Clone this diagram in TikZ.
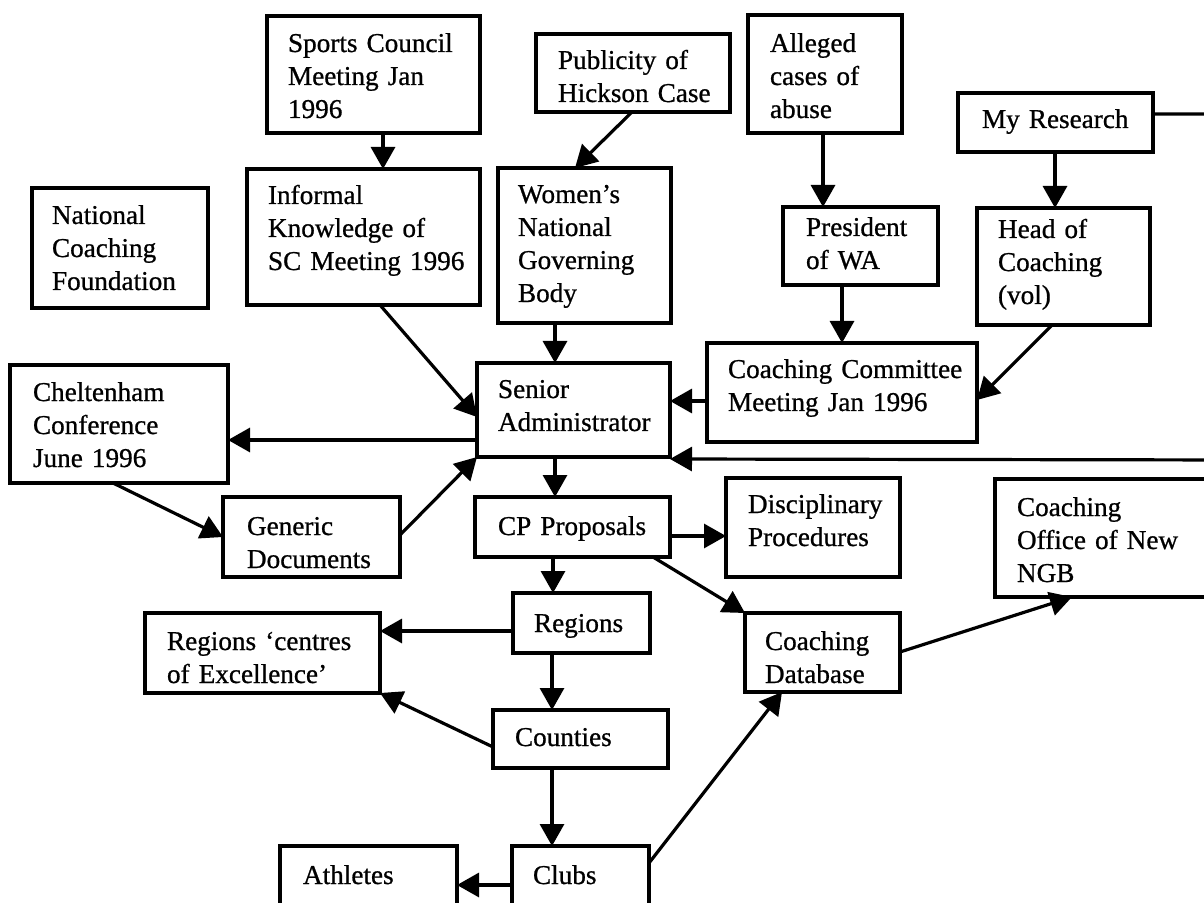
\documentclass[tikz,border=0pt]{standalone}
\usepackage{fontspec}
\setmainfont{Liberation Serif}[FakeBold=0.8]
\usetikzlibrary{arrows.meta,calc}
\tikzset{
  box/.style={draw, line width=1.8pt, inner sep=0pt, outer sep=0pt, rectangle},
  txt/.style={inner sep=0pt, outer sep=0pt, anchor=base west, align=left, text width=150pt, font=\fontsize{13.6}{16.5}\selectfont},
  arr/.style={line width=1.6pt, -{Triangle[length=11pt,width=12pt]}},
}
\newcommand\bx[5]{\node[box, anchor=north west, minimum width={(#4-#2)*0.5pt}, minimum height={(#5-#3)*0.5pt}] (#1) at (#2,#3) {};}
\newcommand\tx[4]{\node[txt] (#1) at (#2,#3) {#4};}
\begin{document}
\begin{tikzpicture}[x=0.5pt,y=-0.5pt]
\useasboundingbox (0,0) rectangle (1204,903);
\clip (0,0) rectangle (1204,903);
% boxes
\bx{sc}{267}{16}{480}{133}
\bx{ncf}{32}{188}{208}{308}
\bx{ik}{247}{169}{480}{305}
\bx{pub}{536}{34}{730}{112}
\bx{wn}{498}{168}{671}{323}
\bx{al}{748}{15}{902}{133}
\bx{pr}{783}{207}{938}{285}
\bx{mr}{958}{93}{1153}{152}
\bx{hc}{977}{208}{1150}{325}
\bx{cc}{707}{343}{977}{442}
\bx{sa}{477}{363}{670}{457}
\bx{ch}{10}{365}{228}{483}
\bx{gd}{223}{497}{400}{577}
\bx{cp}{475}{497}{670}{557}
\bx{dp}{726}{478}{900}{577}
\bx{co}{995}{479}{1240}{597}
\bx{rg}{513}{593}{650}{653}
\bx{rc}{145}{613}{380}{693}
\bx{db}{745}{613}{900}{692}
\bx{ct}{493}{710}{668}{768}
\bx{cl}{512}{846}{649}{950}
\bx{at}{280}{846}{457}{950}
% texts
\tx{sct}{288}{52}{Sports Council\\Meeting Jan\\1996}
\tx{ncft}{52}{224}{National\\Coaching\\Foundation}
\tx{ikt}{268}{204}{Informal\\Knowledge of\\SC Meeting 1996}
\tx{pubt}{558}{69}{Publicity of\\Hickson Case}
\tx{wnt}{518}{203}{Women’s\\National\\Governing\\Body}
\tx{alt}{770}{52}{Alleged\\cases of\\abuse}
\tx{prt}{806}{236}{President\\of WA}
\tx{mrt}{982}{128}{My Research}
\tx{hct}{998}{238}{Head of\\Coaching\\(vol)}
\tx{cct}{728}{378}{Coaching Committee\\Meeting Jan 1996}
\tx{sat}{498}{398}{Senior\\Administrator}
\tx{cht}{33}{401}{Cheltenham\\Conference\\June 1996}
\tx{gdt}{247}{535}{Generic\\Documents}
\tx{cpt}{498}{535}{CP Proposals}
\tx{dpt}{748}{513}{Disciplinary\\Procedures}
\tx{cot}{1017}{516}{Coaching\\Office of New\\NGB}
\tx{rgt}{534}{632}{Regions}
\tx{rct}{167}{650}{Regions ‘centres\\of Excellence’}
\tx{dbt}{765}{650}{Coaching\\Database}
\tx{ctt}{515}{746}{Counties}
\tx{clt}{533}{884}{Clubs}
\tx{att}{303}{884}{Athletes}
% connectors
\coordinate (rtop) at (1240,114);
\coordinate (rbot) at (1240,460);
\draw[arr] ($(sc.south west)+(116,0)$) -- ($(ik.north west)+(136,0)$);
\draw[arr] ($(pub.south west)+(96,0)$) -- ($(wn.north west)+(77,0)$);
\draw[arr] ($(al.south west)+(75,0)$) -- ($(pr.north west)+(40,0)$);
\draw[arr] ($(pr.south west)+(59,0)$) -- ($(cc.north west)+(135,0)$);
\draw[arr] ($(mr.south west)+(97,0)$) -- ($(hc.north west)+(78,0)$);
\draw[arr] ($(hc.south west)+(75,0)$) -- ($(cc.south east)+(0,-42)$);
\draw[arr] ($(cc.north west)+(0,58)$) -- ($(sa.north east)+(0,38)$);
\draw[arr] ($(wn.south west)+(57,0)$) -- ($(sa.north west)+(78,0)$);
\draw[arr] ($(ik.south west)+(133,0)$) -- ($(sa.north west)+(0,54)$);
\draw[arr] ($(sa.north west)+(0,77)$) -- ($(ch.north east)+(0,75)$);
\draw[arr] ($(ch.south west)+(103,0)$) -- ($(gd.north west)+(0,40)$);
\draw[arr] ($(gd.north east)+(0,38)$) -- (sa.south west);
\draw[arr] ($(mr.north east)+(0,21)$) -- (rtop) -- (rbot) -- ($(sa.south east)+(0,2)$);
\draw[arr] ($(sa.south west)+(78,0)$) -- ($(cp.north west)+(80,0)$);
\draw[arr] ($(cp.north east)+(0,39)$) -- ($(dp.north west)+(0,58)$);
\draw[arr] ($(cp.south west)+(78,0)$) -- ($(rg.north west)+(40,0)$);
\draw[arr] ($(cp.south west)+(178,0)$) -- (db.north west);
\draw[arr] ($(db.north east)+(0,39)$) -- ($(co.south west)+(77,0)$);
\draw[arr] ($(rg.north west)+(0,38)$) -- ($(rc.north east)+(0,18)$);
\draw[arr] ($(rg.south west)+(39,0)$) -- ($(ct.north west)+(59,0)$);
\draw[arr] ($(ct.north west)+(0,37)$) -- (rc.south east);
\draw[arr] ($(ct.south west)+(59,0)$) -- ($(cl.north west)+(40,0)$);
\draw[arr] ($(cl.north west)+(0,39)$) -- ($(at.north east)+(0,39)$);
\draw[arr] ($(cl.north east)+(0,17)$) -- ($(db.south west)+(37,0)$);
\end{tikzpicture}
\end{document}
